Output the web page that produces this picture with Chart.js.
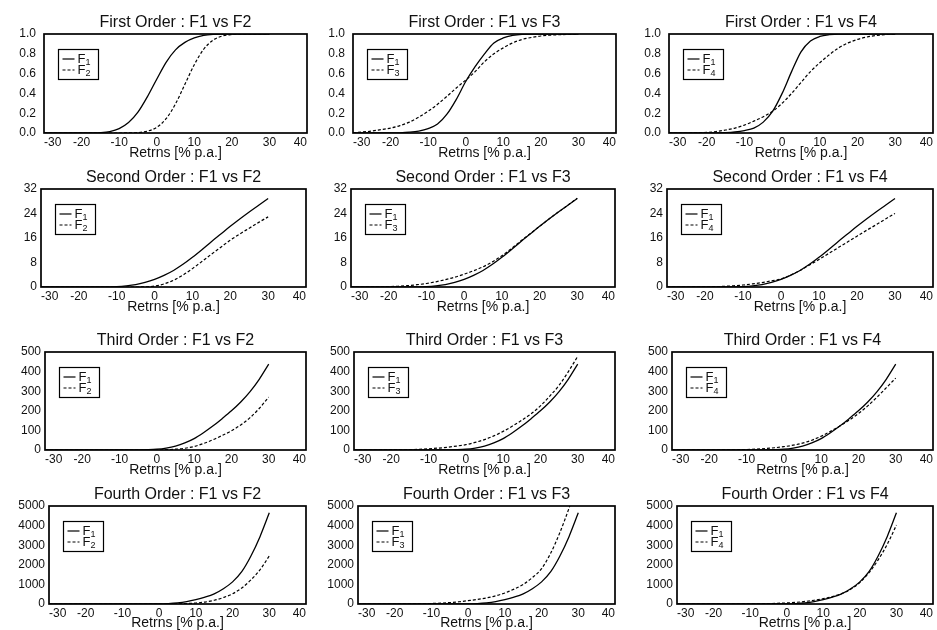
<!DOCTYPE html>
<html><head><meta charset="utf-8">
<script src="https://cdn.jsdelivr.net/npm/chart.js@4.4.0/dist/chart.umd.min.js"></script>
<style>
html,body{margin:0;padding:0;background:#fff;overflow:hidden;width:937px;height:630px;position:relative}
canvas{position:absolute}
</style></head><body>
<script>
// ---------- DATA ----------
const xValues = [-30,-27.5,-25,-22.5,-20,-17.5,-15,-12.5,-10,-7.5,-5,-2.5,0,2.5,5,7.5,10,12.5,15,17.5,20,22.5,25,27.5,30];
const xTickValues = [-30,-20,-10,0,10,20,30,40];
const xAxisLabel = 'Retrns [% p.a.]';

// First order (cumulative distributions)
const first_F1_vsF2 = [0,0,0,0,0.0002,0.001,0.004,0.015,0.044,0.105,0.21,0.365,0.543,0.714,0.84,0.915,0.96,0.985,0.996,1,1,1,1,1,1];
const first_F2      = [0,0,0,0,0,0,0,0,0,0.001,0.004,0.018,0.057,0.144,0.294,0.492,0.69,0.846,0.938,0.98,0.995,1,1,1,1];
const first_F1_vsF3 = [0,0,0,0,0,0.002,0.008,0.02,0.045,0.09,0.19,0.34,0.52,0.67,0.80,0.91,0.96,0.985,0.997,1,1,1,1,1,1];
const first_F3      = [0.003,0.01,0.02,0.035,0.05,0.075,0.11,0.16,0.22,0.29,0.37,0.455,0.535,0.62,0.72,0.80,0.86,0.91,0.945,0.965,0.98,0.988,0.993,0.997,1];
const first_F1_vsF4 = [0,0,0,0,0,0.001,0.003,0.01,0.025,0.05,0.11,0.22,0.40,0.62,0.82,0.93,0.975,0.993,1,1,1,1,1,1,1];
const first_F4      = [0,0,0,0.002,0.006,0.015,0.03,0.05,0.08,0.12,0.165,0.22,0.30,0.40,0.51,0.62,0.71,0.79,0.86,0.91,0.945,0.97,0.985,0.995,1];

// Second order
const second_F1 = [0,0,0,0,0,0,0,0.03,0.12,0.35,0.75,1.5,2.5,3.8,5.4,7.4,9.7,12.2,14.8,17.3,19.8,22.2,24.5,26.7,28.9];
const second_F2 = [0,0,0,0,0,0,0,0,0,0,0,0.05,0.3,1.0,2.2,3.9,6.0,8.3,10.7,13.0,15.3,17.3,19.2,21.1,22.9];
const second_F3 = [0,0,0.02,0.06,0.12,0.25,0.45,0.75,1.15,1.7,2.4,3.2,4.2,5.3,6.6,8.2,10.2,12.5,15.0,17.4,19.8,22.2,24.5,26.7,29.0];
const second_F4 = [0,0,0,0.02,0.05,0.12,0.22,0.4,0.65,1.0,1.45,2.0,2.6,3.9,5.4,7.2,9.0,10.9,12.8,14.7,16.6,18.5,20.3,22.2,24.0];

// Third order
const third_F1 = [0,0,0,0,0,0,0,0,0,0.1,0.5,1.5,4,10,20,36,58,88,122,160,200,245,298,362,438];
const third_F2 = [0,0,0,0,0,0,0,0,0,0,0,0,0.3,1.5,4,9,18,33,52,74,98,128,165,213,270];
const third_F3 = [0,0,0,0.2,0.5,1,2,3.5,6,9.5,14,20,27,39,53,72,95,122,152,185,225,275,330,400,478];
const third_F4 = [0,0,0,0,0,0.1,0.4,1.1,2.4,4.5,7.5,11.5,17,24.5,35,50,70,95,122,152,186,225,270,318,367];

// Fourth order
const fourth_F1 = [0,0,0,0,0,0,0,0,0,0,0,1,5,20,55,120,220,350,520,780,1130,1650,2450,3450,4650];
const fourth_F2 = [0,0,0,0,0,0,0,0,0,0,0,0,0,2,8,22,50,100,190,330,520,820,1230,1750,2450];
const fourth_F3 = [0,0,0,0,0.5,2,5,12,24,44,73,115,170,230,310,420,560,760,1000,1350,1800,2600,3650,4900,6300];
const fourth_F4 = [0,0,0,0,0,0,0,1,4,10,20,35,55,85,130,190,270,380,530,750,1100,1600,2250,3050,4025];

const yTicksFirst  = [0,0.2,0.4,0.6,0.8,1.0];
const yTicksSecond = [0,8,16,24,32];
const yTicksThird  = [0,100,200,300,400,500];
const yTicksFourth = [0,1000,2000,3000,4000,5000];

// ---------- PANELS ----------
const panels = [
  {t:'First Order : F1 vs F2', a:first_F1_vsF2, b:first_F2, k:'2', yt:yTicksFirst, dec:1},
  {t:'First Order : F1 vs F3', a:first_F1_vsF3, b:first_F3, k:'3', yt:yTicksFirst, dec:1},
  {t:'First Order : F1 vs F4', a:first_F1_vsF4, b:first_F4, k:'4', yt:yTicksFirst, dec:1},
  {t:'Second Order : F1 vs F2', a:second_F1, b:second_F2, k:'2', yt:yTicksSecond, dec:0},
  {t:'Second Order : F1 vs F3', a:second_F1, b:second_F3, k:'3', yt:yTicksSecond, dec:0},
  {t:'Second Order : F1 vs F4', a:second_F1, b:second_F4, k:'4', yt:yTicksSecond, dec:0},
  {t:'Third Order : F1 vs F2', a:third_F1, b:third_F2, k:'2', yt:yTicksThird, dec:0},
  {t:'Third Order : F1 vs F3', a:third_F1, b:third_F3, k:'3', yt:yTicksThird, dec:0},
  {t:'Third Order : F1 vs F4', a:third_F1, b:third_F4, k:'4', yt:yTicksThird, dec:0},
  {t:'Fourth Order : F1 vs F2', a:fourth_F1, b:fourth_F2, k:'2', yt:yTicksFourth, dec:0},
  {t:'Fourth Order : F1 vs F3', a:fourth_F1, b:fourth_F3, k:'3', yt:yTicksFourth, dec:0},
  {t:'Fourth Order : F1 vs F4', a:fourth_F1, b:fourth_F4, k:'4', yt:yTicksFourth, dec:0}
];

// ---------- LAYOUT ----------
const plotLeft = [[44,353,669],[41,351,667],[45,354,672],[49,358,677]];
const plotRight = [[307,616,933],[306,615,933],[306,615,933],[306,615,933]];
const plotTop = [34,189,352,506];
const plotBottom = [133,287,450,604];
const colCanvasLeft = [0,311,622];
const colCanvasRight = [311,622,937];
const yPad = [8,4,4,4];
const xTitlePad = [0.5,1,1,2];

const FONT = '"Liberation Sans", Arial, Helvetica, sans-serif';
const TXT = '#111';

const framePlugin = {
  id:'frameLegend',
  afterDraw(chart){
    const ctx = chart.ctx, ca = chart.chartArea;
    ctx.save();
    ctx.strokeStyle = '#000'; ctx.lineWidth = 1.7; ctx.setLineDash([]);
    ctx.strokeRect(ca.left, ca.top, ca.right-ca.left, ca.bottom-ca.top);
    // legend box
    const bx = Math.round(ca.left + 14) + 0.5, by = Math.round(ca.top + 15) + 0.5, bw = 40, bh = 30;
    ctx.fillStyle = '#fff';
    ctx.fillRect(bx, by, bw, bh);
    ctx.lineWidth = 1.2;
    ctx.strokeRect(bx, by, bw, bh);
    const ds = chart.data.datasets;
    const rows = [by + 9.5, by + 20.5];
    ds.forEach((d, i) => {
      ctx.beginPath();
      ctx.setLineDash(d.borderDash || []);
      ctx.lineWidth = 1.2;
      ctx.moveTo(bx + 4, rows[i]); ctx.lineTo(bx + 16, rows[i]);
      ctx.stroke();
      ctx.setLineDash([]);
      ctx.fillStyle = TXT;
      ctx.textBaseline = 'middle';
      ctx.textAlign = 'left';
      ctx.font = '13px ' + FONT;
      ctx.fillText('F', bx + 19, rows[i]);
      ctx.font = '9px ' + FONT;
      ctx.fillText(d.label.slice(1), bx + 27, rows[i] + 4);
    });
    ctx.restore();
  }
};

panels.forEach((p, idx) => {
  const r = Math.floor(idx / 3), col = idx % 3;
  const L = plotLeft[r][col], R = plotRight[r][col], T = plotTop[r], B = plotBottom[r];
  const cl = colCanvasLeft[col], cr = colCanvasRight[col];
  const top = T - 28, h = (B - T) + 56, w = cr - cl;
  const c = document.createElement('canvas');
  c.width = w; c.height = h;
  c.style.left = cl + 'px'; c.style.top = top + 'px';
  c.style.width = w + 'px'; c.style.height = h + 'px';
  document.body.appendChild(c);
  const yw = L - cl, rp = cr - R;
  const ymax = p.yt[p.yt.length - 1];
  new Chart(c, {
    type: 'line',
    data: {
      datasets: [
        {label:'F1', data: xValues.map((x,i)=>({x:x, y:p.a[i]})), borderColor:'#000', borderWidth:1.3,
         pointRadius:0, cubicInterpolationMode:'monotone', fill:false},
        {label:'F'+p.k, data: xValues.map((x,i)=>({x:x, y:p.b[i]})), borderColor:'#000', borderWidth:1.2,
         borderDash:[3,2], pointRadius:0, cubicInterpolationMode:'monotone', fill:false}
      ]
    },
    options: {
      responsive:false, animation:false, devicePixelRatio:1,
      layout:{padding:{left:0, right:rp, top:0, bottom:0}},
      plugins:{
        legend:{display:false}, tooltip:{enabled:false},
        title:{display:true, text:p.t, fullSize:false, color:TXT,
          font:{family:FONT, size:16, weight:'normal', lineHeight:1}, padding:{top:9, bottom:3}}
      },
      scales:{
        x:{type:'linear', min:-30, max:40,
          afterBuildTicks:s=>{ s.ticks = xTickValues.map(v=>({value:v})); },
          ticks:{autoSkip:false, maxRotation:0, minRotation:0, align:'inner', padding:2, color:TXT,
            font:{family:FONT, size:12}},
          grid:{display:false, drawTicks:false}, border:{display:false},
          title:{display:true, text:xAxisLabel, color:TXT, font:{family:FONT, size:14, lineHeight:1}, padding:{top:0, bottom:xTitlePad[r]}},
          afterFit:s=>{ s.height = 28; }
        },
        y:{type:'linear', min:0, max:ymax,
          afterBuildTicks:s=>{ s.ticks = p.yt.map(v=>({value:v})); },
          ticks:{padding:yPad[r], color:TXT, font:{family:FONT, size:12},
            callback:v=> p.dec ? Number(v).toFixed(1) : String(v)},
          grid:{display:false, drawTicks:false}, border:{display:false},
          afterFit:s=>{ s.width = yw; }
        }
      }
    },
    plugins:[framePlugin]
  });
});
</script>
</body></html>
